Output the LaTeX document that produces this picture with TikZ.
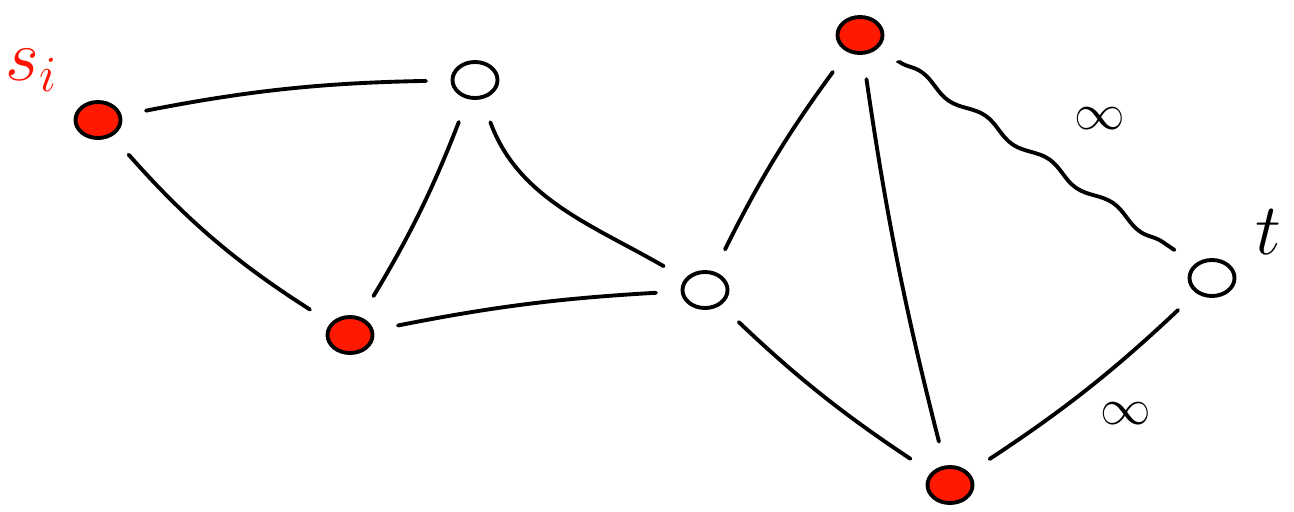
\documentclass[tikz,border=0pt]{standalone}
\usetikzlibrary{shapes.geometric, decorations.pathmorphing}

\begin{document}
\begin{tikzpicture}[
    x=0.01cm, y=-0.01cm,
    vtx/.style={ellipse, draw=black, line width=1.1pt, minimum width=0.45cm, minimum height=0.36cm, inner sep=0pt},
    cut/.style={vtx, fill=red!80!orange},
    free/.style={vtx, fill=white},
    edge/.style={line width=1.1pt, line cap=round, shorten >=7pt, shorten <=7pt},
    wavy/.style={edge, decorate, decoration={snake, amplitude=1.2pt, segment length=22pt, pre length=7pt, post length=7pt}},
    lbl/.style={font=\fontsize{14}{16}\selectfont}
]
    \useasboundingbox (0,0) rectangle (1294,511);

    % Nodes
    \node[cut] (s) at (98,120) {};
    \node[free] (a) at (475,80) {};
    \node[cut] (b) at (350,335) {};
    \node[free] (c) at (705,290) {};
    \node[cut] (d) at (860,35) {};
    \node[cut] (e) at (950,485) {};
    \node[free] (t) at (1212,278) {};

    \node[red!85!orange, font=\fontsize{22}{26}\selectfont] (slbl) at (32,70) {$s_i$};
    \node[font=\fontsize{20}{24}\selectfont] (tlbl) at (1268,232) {$t$};

    % Edges
    \draw[edge] (s) to[bend left=5] (a);
    \draw[edge] (s) to[bend right=8] (b);
    \draw[edge] (a) to[bend left=5] (b);
    \draw[edge] (b) to[bend left=4] (c);
    \draw[edge] (a) to[out=-70, in=150] (c);
    \draw[edge] (c) to[bend left=5] (d);
    \draw[edge] (c) to[bend right=5] (e);
    \draw[edge] (d) to[bend right=3] (e);
    \draw[wavy] (d) -- node[lbl, above=16pt, pos=0.7] (inf1) {$\infty$} (t.north west);
    \draw[edge] (e) to[bend right=5] node[lbl, below right, pos=0.5] (inf2) {$\infty$} (t);

\end{tikzpicture}
\end{document}
